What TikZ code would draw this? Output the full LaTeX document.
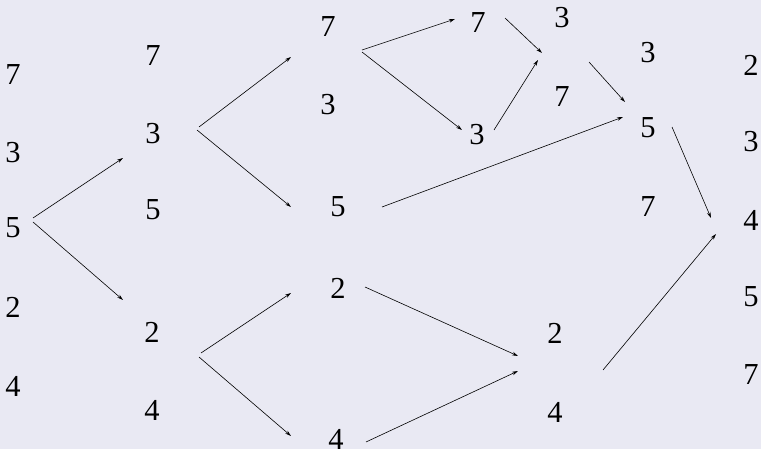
\documentclass[tikz,border=0pt]{standalone}
\usepackage{fontspec}
\setmainfont{Liberation Serif}
\usetikzlibrary{arrows.meta}
\definecolor{bgc}{RGB}{233,233,243}
\tikzset{
  num/.style={inner sep=0pt, font=\fontsize{30.5}{30.5}\selectfont},
  arr/.style={-{Stealth[length=6pt,width=3.6pt]}, line width=0.6pt, black}
}
\begin{document}
\begin{tikzpicture}[x=1pt,y=-1pt]
\fill[bgc] (0,0) rectangle (761,449);
\useasboundingbox (0,0) rectangle (761,449);
% column 0
\node[num] (a1) at (13,75) {7};
\node[num] (a2) at (13,153) {3};
\node[num] (a3) at (13,228) {5};
\node[num] (a4) at (13,307) {2};
\node[num] (a5) at (13,386) {4};
% column 1
\node[num] (b1) at (153,56) {7};
\node[num] (b2) at (153,134) {3};
\node[num] (b3) at (153,210) {5};
\node[num] (b4) at (152,332) {2};
\node[num] (b5) at (152,410) {4};
% column 2
\node[num] (c1) at (328,27) {7};
\node[num] (c2) at (328,105) {3};
\node[num] (c3) at (338,207) {5};
\node[num] (c4) at (338,288) {2};
\node[num] (c5) at (336,439) {4};
% column 3
\node[num] (d1) at (478,23) {7};
\node[num] (d2) at (477,135) {3};
% column 4
\node[num] (e1) at (562,18) {3};
\node[num] (e2) at (562,97) {7};
% column 5
\node[num] (f1) at (648,53) {3};
\node[num] (f2) at (648,128) {5};
\node[num] (f3) at (648,207) {7};
\node[num] (g1) at (555,333) {2};
\node[num] (g2) at (555,412) {4};
% column 6
\node[num] (h1) at (751,65) {2};
\node[num] (h2) at (751,142) {3};
\node[num] (h3) at (751,220) {4};
\node[num] (h4) at (751,297) {5};
\node[num] (h5) at (751,375) {7};
% arrow end points
\coordinate (s1) at (33,218);  \coordinate (t1) at (123,158);
\coordinate (s2) at (33,222);  \coordinate (t2) at (123,300);
\coordinate (s3) at (199,127); \coordinate (t3) at (291,57);
\coordinate (s4) at (197,130); \coordinate (t4) at (291,207);
\coordinate (s5) at (362,50);  \coordinate (t5) at (455,19);
\coordinate (s6) at (362,52);  \coordinate (t6) at (462,130);
\coordinate (s7) at (505,18);  \coordinate (t7) at (542,53);
\coordinate (s8) at (494,130); \coordinate (t8) at (538,60);
\coordinate (s9) at (589,62);  \coordinate (t9) at (625,102);
\coordinate (s10) at (382,207); \coordinate (t10) at (623,117);
\coordinate (s11) at (672,127); \coordinate (t11) at (711,218);
\coordinate (s12) at (201,353); \coordinate (t12) at (291,293);
\coordinate (s13) at (199,357); \coordinate (t13) at (291,436);
\coordinate (s14) at (365,287); \coordinate (t14) at (518,356);
\coordinate (s15) at (366,442); \coordinate (t15) at (518,371);
\coordinate (s16) at (603,370); \coordinate (t16) at (716,234);
\foreach \i in {1,...,16} { \draw[arr] (s\i) -- (t\i); }
\end{tikzpicture}
\end{document}
